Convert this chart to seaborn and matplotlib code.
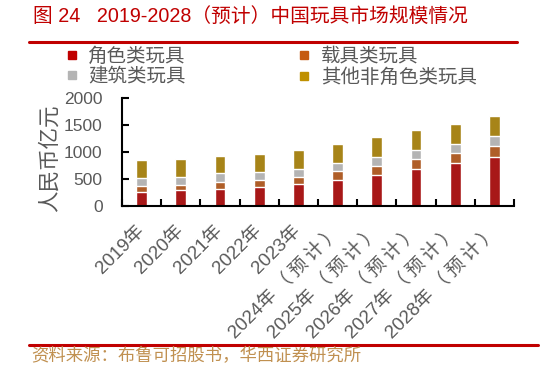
import numpy as np
import pandas as pd
import matplotlib
matplotlib.use("Agg")
import matplotlib.pyplot as plt
import seaborn as sns
from matplotlib.lines import Line2D

# data (人民币亿元)
years = ["2019年", "2020年", "2021年", "2022年", "2023年",
         "2024年（预计）", "2025年（预计）", "2026年（预计）", "2027年（预计）", "2028年（预计）"]
role_toys = [250, 290, 320, 345, 400, 485, 575, 680, 790, 900]
vehicle_toys = [120, 105, 130, 135, 135, 165, 160, 190, 195, 215]
building_toys = [140, 140, 150, 150, 150, 145, 170, 170, 160, 175]
other_toys = [335, 340, 330, 335, 355, 355, 360, 360, 370, 365]

series_names = ["角色类玩具", "载具类玩具", "建筑类玩具", "其他非角色类玩具"]
colors = ["#C00000", "#C55A11", "#B4B4B4", "#BF9000"]

sns.set_theme(style="white")
plt.rcParams['font.family'] = ['Liberation Sans', 'Noto Sans CJK SC', 'DejaVu Sans']
plt.rcParams['axes.unicode_minus'] = False

df = pd.DataFrame({
    "year": years,
    series_names[0]: role_toys,
    series_names[1]: vehicle_toys,
    series_names[2]: building_toys,
    series_names[3]: other_toys,
})
# cumulative heights for stacking
cum = df[series_names].cumsum(axis=1)

fig = plt.figure(figsize=(5.44, 3.71), dpi=100)
ax = fig.add_axes([122 / 544, 1 - 206 / 371, (514 - 122) / 544, (206 - 97.5) / 371])

# draw tallest layer first so lower layers sit on top
for name, col in reversed(list(zip(series_names, colors))):
    sns.barplot(x=df["year"], y=cum[name], color=col, width=0.28,
                edgecolor="white", linewidth=1.0, ax=ax, order=years)

ax.set_ylim(0, 2000)
ax.set_xlim(-0.5, len(years) - 0.5)
ax.set_yticks([0, 500, 1000, 1500, 2000])
ax.set_xlabel("")
ax.set_ylabel("")

for s in ["top", "right"]:
    ax.spines[s].set_visible(False)
for s in ["left", "bottom"]:
    ax.spines[s].set_color("black")
    ax.spines[s].set_linewidth(1.5)

gray = "#595959"
ax.tick_params(axis="y", direction="in", length=5, width=1.5, color="black",
               labelsize=12.5, labelcolor=gray, pad=14, left=True)
ax.set_xticks(np.arange(-0.5, len(years)), minor=True)
ax.tick_params(axis="x", which="minor", direction="in", length=5, width=1.5,
               color="black", bottom=True)
ax.tick_params(axis="x", which="major", length=0, pad=16)

# a little letter spacing on the CJK part, like the original font
def spaced(label):
    head, tail = label[:4], label[4:]
    return head + "\u2009".join(tail)

ax.set_xticks(range(len(years)))
ax.set_xticklabels([spaced(y) for y in years], fontsize=13.5, color=gray,
                   rotation=45, ha="right", va="center", rotation_mode="anchor")

fig.text(50 / 544, 1 - 158 / 371, "人民币亿元", rotation=90, ha="center",
         va="center", fontsize=15.5, color=gray)

# legend: 2 columns, row-wise order
handles = [Line2D([], [], marker="s", linestyle="none", markersize=6,
                  markerfacecolor=c, markeredgecolor=c) for c in colors]
order = [0, 2, 1, 3]
fig.legend([handles[i] for i in order], [series_names[i] for i in order],
           ncol=2, loc="center left", bbox_to_anchor=(66 / 544, 1 - 67 / 371),
           frameon=False, fontsize=14, labelcolor=gray, handlelength=0.6,
           handletextpad=0.55, columnspacing=5.8, labelspacing=0.1,
           borderpad=0, borderaxespad=0)

red = "#C00000"
fig.text(33 / 544, 1 - 16 / 371, "图 24   2019-2028（预计）中国玩具市场规模情况",
         ha="left", va="center", fontsize=14.2, color=red)
fig.add_artist(Line2D([29 / 544, 517 / 544], [1 - 42 / 371, 1 - 42 / 371],
                      color=red, linewidth=2.2))
fig.add_artist(Line2D([29 / 544, 538 / 544], [1 - 345 / 371, 1 - 345 / 371],
                      color=red, linewidth=2.2))
fig.text(31 / 544, 1 - 356 / 371, "资料来源：布鲁可招股书，华西证券研究所",
         ha="left", va="center", fontsize=12.5, color="#C09050")

fig.savefig("out.png", dpi=100)
